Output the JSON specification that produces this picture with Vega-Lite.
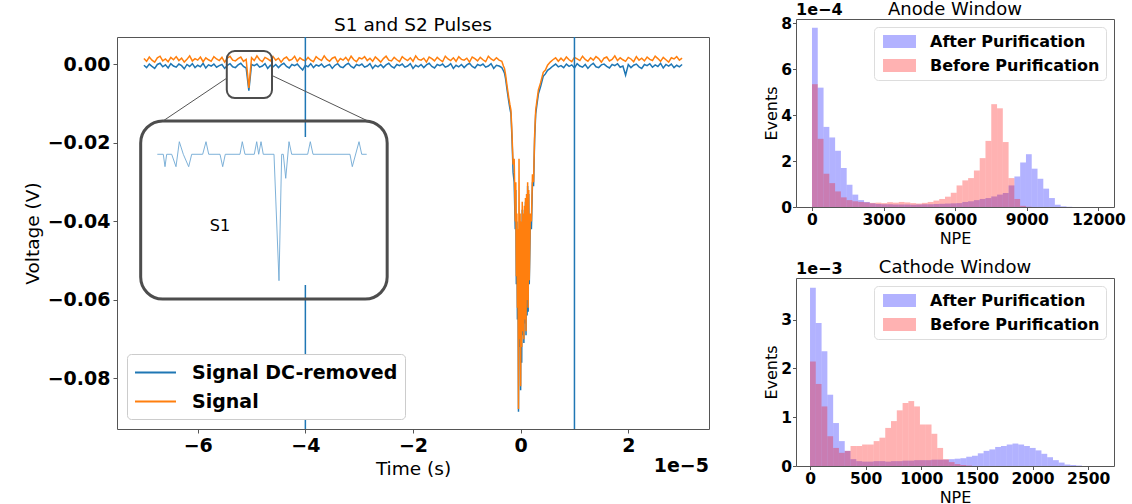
{
"$schema": "https://vega.github.io/schema/vega-lite/v6.json",
"background": "white",
"padding": {"left": 22, "top": 0, "right": 5, "bottom": 5},
"config": {
  "font": "DejaVu Sans",
  "view": {"stroke": "#555", "strokeWidth": 1},
  "axis": {"domain": false, "grid": false, "tickColor": "#555", "tickSize": 4, "labelFontWeight": "bold", "labelColor": "#000", "titleColor": "#000", "titleFontWeight": "normal", "labelFont": "DejaVu Sans", "titleFont": "DejaVu Sans"},
  "legend": {"labelFont": "DejaVu Sans", "labelColor": "#000"}
},
"spacing": 53,
"resolve": {"scale": {"color": "independent"}, "legend": {"color": "independent"}},
"hconcat": [
{
  "spacing": 0,
  "resolve": {"scale": {"color": "independent"}, "legend": {"color": "independent"}},
  "vconcat": [
  {
    "width": 592, "height": 15,
    "view": {"stroke": null},
    "data": {"values": [{"label": "S1 and S2 Pulses"}]},
    "mark": {"type": "text", "fontSize": 18.5, "color": "#000", "baseline": "alphabetic", "dy": 4.5},
    "encoding": {"text": {"field": "label"}}
  },
  {
  "width": 592, "height": 392,
  "layer": [
    {
      "data": {"values": [
        {"t":-7.00,"Signal DC-removed":-0.0002,"Signal":0.0015},
        {"t":-6.95,"Signal DC-removed":-0.0008,"Signal":0.0008},
        {"t":-6.90,"Signal DC-removed":0.0001,"Signal":0.0019},
        {"t":-6.85,"Signal DC-removed":-0.0005,"Signal":0.0011},
        {"t":-6.80,"Signal DC-removed":-0.0010,"Signal":0.0006},
        {"t":-6.75,"Signal DC-removed":0.0000,"Signal":0.0017},
        {"t":-6.70,"Signal DC-removed":0.0003,"Signal":0.0021},
        {"t":-6.65,"Signal DC-removed":-0.0006,"Signal":0.0009},
        {"t":-6.60,"Signal DC-removed":-0.0001,"Signal":0.0014},
        {"t":-6.55,"Signal DC-removed":-0.0009,"Signal":0.0007},
        {"t":-6.50,"Signal DC-removed":0.0002,"Signal":0.0018},
        {"t":-6.45,"Signal DC-removed":-0.0004,"Signal":0.0012},
        {"t":-6.40,"Signal DC-removed":-0.0007,"Signal":0.0020},
        {"t":-6.35,"Signal DC-removed":0.0001,"Signal":0.0010},
        {"t":-6.30,"Signal DC-removed":-0.0003,"Signal":0.0016},
        {"t":-6.25,"Signal DC-removed":-0.0011,"Signal":0.0006},
        {"t":-6.20,"Signal DC-removed":0.0000,"Signal":0.0013},
        {"t":-6.15,"Signal DC-removed":-0.0005,"Signal":0.0022},
        {"t":-6.10,"Signal DC-removed":0.0002,"Signal":0.0009},
        {"t":-6.05,"Signal DC-removed":-0.0008,"Signal":0.0015},
        {"t":-6.00,"Signal DC-removed":-0.0002,"Signal":0.0011},
        {"t":-5.95,"Signal DC-removed":-0.0006,"Signal":0.0019},
        {"t":-5.90,"Signal DC-removed":0.0003,"Signal":0.0007},
        {"t":-5.85,"Signal DC-removed":-0.0009,"Signal":0.0017},
        {"t":-5.80,"Signal DC-removed":-0.0001,"Signal":0.0012},
        {"t":-5.75,"Signal DC-removed":-0.0004,"Signal":0.0008},
        {"t":-5.70,"Signal DC-removed":0.0001,"Signal":0.0020},
        {"t":-5.65,"Signal DC-removed":-0.0007,"Signal":0.0014},
        {"t":-5.60,"Signal DC-removed":-0.0003,"Signal":0.0010},
        {"t":-5.55,"Signal DC-removed":0.0000,"Signal":0.0018},
        {"t":-5.50,"Signal DC-removed":-0.0010,"Signal":0.0006},
        {"t":-5.45,"Signal DC-removed":-0.0002,"Signal":0.0016},
        {"t":-5.40,"Signal DC-removed":0.0002,"Signal":0.0021},
        {"t":-5.35,"Signal DC-removed":-0.0006,"Signal":0.0011},
        {"t":-5.30,"Signal DC-removed":-0.0008,"Signal":0.0009},
        {"t":-5.25,"Signal DC-removed":-0.0001,"Signal":0.0015},
        {"t":-5.20,"Signal DC-removed":0.0003,"Signal":0.0019},
        {"t":-5.15,"Signal DC-removed":-0.0005,"Signal":0.0008},
        {"t":-5.10,"Signal DC-removed":-0.0009,"Signal":0.0013},
        {"t":-5.05,"Signal DC-removed":-0.0067,"Signal":-0.0060},
        {"t":-5.00,"Signal DC-removed":0.0000,"Signal":0.0017},
        {"t":-4.95,"Signal DC-removed":-0.0003,"Signal":0.0010},
        {"t":-4.90,"Signal DC-removed":0.0001,"Signal":0.0022},
        {"t":-4.85,"Signal DC-removed":-0.0007,"Signal":0.0012},
        {"t":-4.80,"Signal DC-removed":-0.0004,"Signal":0.0007},
        {"t":-4.75,"Signal DC-removed":0.0002,"Signal":0.0018},
        {"t":-4.70,"Signal DC-removed":-0.0010,"Signal":0.0014},
        {"t":-4.65,"Signal DC-removed":-0.0002,"Signal":0.0009},
        {"t":-4.60,"Signal DC-removed":-0.0006,"Signal":0.0020},
        {"t":-4.55,"Signal DC-removed":0.0000,"Signal":0.0011},
        {"t":-4.50,"Signal DC-removed":-0.0008,"Signal":0.0016},
        {"t":-4.45,"Signal DC-removed":-0.0001,"Signal":0.0006},
        {"t":-4.40,"Signal DC-removed":0.0003,"Signal":0.0015},
        {"t":-4.35,"Signal DC-removed":-0.0005,"Signal":0.0019},
        {"t":-4.30,"Signal DC-removed":-0.0009,"Signal":0.0010},
        {"t":-4.25,"Signal DC-removed":0.0000,"Signal":0.0013},
        {"t":-4.20,"Signal DC-removed":-0.0003,"Signal":0.0021},
        {"t":-4.15,"Signal DC-removed":0.0001,"Signal":0.0008},
        {"t":-4.10,"Signal DC-removed":-0.0007,"Signal":0.0017},
        {"t":-4.05,"Signal DC-removed":-0.0014,"Signal":0.0012},
        {"t":-4.00,"Signal DC-removed":-0.0002,"Signal":0.0009},
        {"t":-3.95,"Signal DC-removed":-0.0006,"Signal":0.0018},
        {"t":-3.90,"Signal DC-removed":0.0002,"Signal":0.0011},
        {"t":-3.85,"Signal DC-removed":-0.0008,"Signal":0.0007},
        {"t":-3.80,"Signal DC-removed":-0.0001,"Signal":0.0020},
        {"t":-3.75,"Signal DC-removed":-0.0004,"Signal":0.0014},
        {"t":-3.70,"Signal DC-removed":0.0001,"Signal":0.0010},
        {"t":-3.65,"Signal DC-removed":-0.0007,"Signal":0.0022},
        {"t":-3.60,"Signal DC-removed":-0.0003,"Signal":0.0013},
        {"t":-3.55,"Signal DC-removed":0.0000,"Signal":0.0008},
        {"t":-3.50,"Signal DC-removed":-0.0010,"Signal":0.0016},
        {"t":-3.45,"Signal DC-removed":-0.0002,"Signal":0.0019},
        {"t":-3.40,"Signal DC-removed":0.0002,"Signal":0.0006},
        {"t":-3.35,"Signal DC-removed":-0.0006,"Signal":0.0015},
        {"t":-3.30,"Signal DC-removed":-0.0008,"Signal":0.0011},
        {"t":-3.25,"Signal DC-removed":-0.0001,"Signal":0.0018},
        {"t":-3.20,"Signal DC-removed":0.0003,"Signal":0.0009},
        {"t":-3.15,"Signal DC-removed":-0.0005,"Signal":0.0021},
        {"t":-3.10,"Signal DC-removed":-0.0009,"Signal":0.0012},
        {"t":-3.05,"Signal DC-removed":0.0000,"Signal":0.0007},
        {"t":-3.00,"Signal DC-removed":-0.0003,"Signal":0.0017},
        {"t":-2.95,"Signal DC-removed":0.0001,"Signal":0.0014},
        {"t":-2.90,"Signal DC-removed":-0.0007,"Signal":0.0020},
        {"t":-2.85,"Signal DC-removed":-0.0004,"Signal":0.0010},
        {"t":-2.80,"Signal DC-removed":0.0002,"Signal":0.0016},
        {"t":-2.75,"Signal DC-removed":-0.0010,"Signal":0.0008},
        {"t":-2.70,"Signal DC-removed":-0.0002,"Signal":0.0019},
        {"t":-2.65,"Signal DC-removed":-0.0006,"Signal":0.0013},
        {"t":-2.60,"Signal DC-removed":0.0000,"Signal":0.0006},
        {"t":-2.55,"Signal DC-removed":-0.0008,"Signal":0.0015},
        {"t":-2.50,"Signal DC-removed":-0.0001,"Signal":0.0021},
        {"t":-2.45,"Signal DC-removed":0.0003,"Signal":0.0011},
        {"t":-2.40,"Signal DC-removed":-0.0005,"Signal":0.0009},
        {"t":-2.35,"Signal DC-removed":-0.0009,"Signal":0.0018},
        {"t":-2.30,"Signal DC-removed":0.0000,"Signal":0.0012},
        {"t":-2.25,"Signal DC-removed":-0.0003,"Signal":0.0007},
        {"t":-2.20,"Signal DC-removed":0.0001,"Signal":0.0020},
        {"t":-2.15,"Signal DC-removed":-0.0007,"Signal":0.0014},
        {"t":-2.10,"Signal DC-removed":-0.0004,"Signal":0.0010},
        {"t":-2.05,"Signal DC-removed":0.0002,"Signal":0.0017},
        {"t":-2.00,"Signal DC-removed":-0.0010,"Signal":0.0008},
        {"t":-1.95,"Signal DC-removed":-0.0002,"Signal":0.0022},
        {"t":-1.90,"Signal DC-removed":-0.0006,"Signal":0.0013},
        {"t":-1.85,"Signal DC-removed":0.0000,"Signal":0.0011},
        {"t":-1.80,"Signal DC-removed":-0.0008,"Signal":0.0016},
        {"t":-1.75,"Signal DC-removed":-0.0001,"Signal":0.0006},
        {"t":-1.70,"Signal DC-removed":0.0003,"Signal":0.0019},
        {"t":-1.65,"Signal DC-removed":-0.0005,"Signal":0.0015},
        {"t":-1.60,"Signal DC-removed":-0.0009,"Signal":0.0009},
        {"t":-1.55,"Signal DC-removed":0.0000,"Signal":0.0018},
        {"t":-1.50,"Signal DC-removed":-0.0003,"Signal":0.0012},
        {"t":-1.45,"Signal DC-removed":0.0001,"Signal":0.0007},
        {"t":-1.40,"Signal DC-removed":-0.0007,"Signal":0.0021},
        {"t":-1.35,"Signal DC-removed":-0.0004,"Signal":0.0014},
        {"t":-1.30,"Signal DC-removed":0.0002,"Signal":0.0010},
        {"t":-1.25,"Signal DC-removed":-0.0010,"Signal":0.0017},
        {"t":-1.20,"Signal DC-removed":-0.0002,"Signal":0.0008},
        {"t":-1.15,"Signal DC-removed":-0.0006,"Signal":0.0020},
        {"t":-1.10,"Signal DC-removed":0.0000,"Signal":0.0013},
        {"t":-1.05,"Signal DC-removed":-0.0008,"Signal":0.0011},
        {"t":-1.00,"Signal DC-removed":-0.0001,"Signal":0.0016},
        {"t":-0.95,"Signal DC-removed":0.0003,"Signal":0.0006},
        {"t":-0.90,"Signal DC-removed":-0.0005,"Signal":0.0019},
        {"t":-0.85,"Signal DC-removed":-0.0009,"Signal":0.0015},
        {"t":-0.80,"Signal DC-removed":0.0000,"Signal":0.0009},
        {"t":-0.75,"Signal DC-removed":-0.0003,"Signal":0.0018},
        {"t":-0.70,"Signal DC-removed":0.0001,"Signal":0.0012},
        {"t":-0.65,"Signal DC-removed":-0.0007,"Signal":0.0007},
        {"t":-0.60,"Signal DC-removed":-0.0004,"Signal":0.0021},
        {"t":-0.55,"Signal DC-removed":0.0002,"Signal":0.0014},
        {"t":-0.50,"Signal DC-removed":-0.0010,"Signal":0.0010},
        {"t":-0.45,"Signal DC-removed":-0.0002,"Signal":0.0017},
        {"t":-0.40,"Signal DC-removed":-0.0004,"Signal":0.0011},
        {"t":-0.35,"Signal DC-removed":-0.0008,"Signal":0.0008},
        {"t":-0.32,"Signal DC-removed":-0.0016,"Signal":-0.0004},
        {"t":-0.30,"Signal DC-removed":-0.0022,"Signal":-0.0010},
        {"t":-0.28,"Signal DC-removed":-0.0036,"Signal":-0.0026},
        {"t":-0.25,"Signal DC-removed":-0.0067,"Signal":-0.0057},
        {"t":-0.22,"Signal DC-removed":-0.0095,"Signal":-0.0085},
        {"t":-0.20,"Signal DC-removed":-0.0112,"Signal":-0.0102},
        {"t":-0.18,"Signal DC-removed":-0.0126,"Signal":-0.0116},
        {"t":-0.16,"Signal DC-removed":-0.0190,"Signal":-0.0180},
        {"t":-0.14,"Signal DC-removed":-0.0275,"Signal":-0.0255},
        {"t":-0.12,"Signal DC-removed":-0.0300,"Signal":-0.0240},
        {"t":-0.10,"Signal DC-removed":-0.0420,"Signal":-0.0400},
        {"t":-0.09,"Signal DC-removed":-0.0320,"Signal":-0.0300},
        {"t":-0.08,"Signal DC-removed":-0.0560,"Signal":-0.0540},
        {"t":-0.07,"Signal DC-removed":-0.0400,"Signal":-0.0380},
        {"t":-0.06,"Signal DC-removed":-0.0650,"Signal":-0.0620},
        {"t":-0.05,"Signal DC-removed":-0.0440,"Signal":-0.0420},
        {"t":-0.04,"Signal DC-removed":-0.0885,"Signal":-0.0878},
        {"t":-0.03,"Signal DC-removed":-0.0460,"Signal":-0.0240},
        {"t":-0.02,"Signal DC-removed":-0.0720,"Signal":-0.0700},
        {"t":-0.01,"Signal DC-removed":-0.0400,"Signal":-0.0380},
        {"t":0.00,"Signal DC-removed":-0.0830,"Signal":-0.0820},
        {"t":0.01,"Signal DC-removed":-0.0420,"Signal":-0.0400},
        {"t":0.02,"Signal DC-removed":-0.0760,"Signal":-0.0720},
        {"t":0.03,"Signal DC-removed":-0.0370,"Signal":-0.0350},
        {"t":0.04,"Signal DC-removed":-0.0690,"Signal":-0.0680},
        {"t":0.05,"Signal DC-removed":-0.0390,"Signal":-0.0380},
        {"t":0.06,"Signal DC-removed":-0.0710,"Signal":-0.0700},
        {"t":0.07,"Signal DC-removed":-0.0370,"Signal":-0.0360},
        {"t":0.08,"Signal DC-removed":-0.0660,"Signal":-0.0650},
        {"t":0.09,"Signal DC-removed":-0.0350,"Signal":-0.0340},
        {"t":0.10,"Signal DC-removed":-0.0690,"Signal":-0.0680},
        {"t":0.11,"Signal DC-removed":-0.0340,"Signal":-0.0330},
        {"t":0.12,"Signal DC-removed":-0.0640,"Signal":-0.0600},
        {"t":0.13,"Signal DC-removed":-0.0310,"Signal":-0.0300},
        {"t":0.14,"Signal DC-removed":-0.0630,"Signal":-0.0620},
        {"t":0.15,"Signal DC-removed":-0.0330,"Signal":-0.0320},
        {"t":0.16,"Signal DC-removed":-0.0560,"Signal":-0.0550},
        {"t":0.18,"Signal DC-removed":-0.0400,"Signal":-0.0380},
        {"t":0.20,"Signal DC-removed":-0.0420,"Signal":-0.0400},
        {"t":0.22,"Signal DC-removed":-0.0300,"Signal":-0.0280},
        {"t":0.24,"Signal DC-removed":-0.0310,"Signal":-0.0300},
        {"t":0.26,"Signal DC-removed":-0.0190,"Signal":-0.0180},
        {"t":0.28,"Signal DC-removed":-0.0126,"Signal":-0.0116},
        {"t":0.30,"Signal DC-removed":-0.0105,"Signal":-0.0095},
        {"t":0.33,"Signal DC-removed":-0.0075,"Signal":-0.0065},
        {"t":0.37,"Signal DC-removed":-0.0057,"Signal":-0.0047},
        {"t":0.42,"Signal DC-removed":-0.0030,"Signal":-0.0020},
        {"t":0.46,"Signal DC-removed":-0.0024,"Signal":-0.0014},
        {"t":0.50,"Signal DC-removed":-0.0015,"Signal":-0.0002},
        {"t":0.55,"Signal DC-removed":-0.0010,"Signal":0.0006},
        {"t":0.60,"Signal DC-removed":-0.0004,"Signal":0.0012},
        {"t":0.65,"Signal DC-removed":0.0001,"Signal":0.0017},
        {"t":0.70,"Signal DC-removed":-0.0006,"Signal":0.0008},
        {"t":0.75,"Signal DC-removed":-0.0003,"Signal":0.0016},
        {"t":0.80,"Signal DC-removed":-0.0008,"Signal":0.0009},
        {"t":0.85,"Signal DC-removed":0.0001,"Signal":0.0019},
        {"t":0.90,"Signal DC-removed":-0.0005,"Signal":0.0012},
        {"t":0.95,"Signal DC-removed":-0.0001,"Signal":0.0007},
        {"t":1.00,"Signal DC-removed":-0.0009,"Signal":0.0018},
        {"t":1.05,"Signal DC-removed":0.0002,"Signal":0.0014},
        {"t":1.10,"Signal DC-removed":-0.0004,"Signal":0.0010},
        {"t":1.15,"Signal DC-removed":-0.0007,"Signal":0.0021},
        {"t":1.20,"Signal DC-removed":0.0000,"Signal":0.0013},
        {"t":1.25,"Signal DC-removed":-0.0010,"Signal":0.0008},
        {"t":1.30,"Signal DC-removed":-0.0002,"Signal":0.0017},
        {"t":1.35,"Signal DC-removed":0.0003,"Signal":0.0011},
        {"t":1.40,"Signal DC-removed":-0.0006,"Signal":0.0020},
        {"t":1.45,"Signal DC-removed":-0.0008,"Signal":0.0015},
        {"t":1.50,"Signal DC-removed":-0.0001,"Signal":0.0006},
        {"t":1.55,"Signal DC-removed":0.0001,"Signal":0.0016},
        {"t":1.60,"Signal DC-removed":-0.0005,"Signal":0.0019},
        {"t":1.65,"Signal DC-removed":-0.0009,"Signal":0.0009},
        {"t":1.70,"Signal DC-removed":0.0000,"Signal":0.0013},
        {"t":1.75,"Signal DC-removed":-0.0003,"Signal":0.0022},
        {"t":1.80,"Signal DC-removed":0.0002,"Signal":0.0010},
        {"t":1.85,"Signal DC-removed":-0.0007,"Signal":0.0017},
        {"t":1.90,"Signal DC-removed":-0.0004,"Signal":0.0012},
        {"t":1.95,"Signal DC-removed":-0.0027,"Signal":0.0008},
        {"t":2.00,"Signal DC-removed":0.0000,"Signal":0.0018},
        {"t":2.05,"Signal DC-removed":-0.0008,"Signal":0.0014},
        {"t":2.10,"Signal DC-removed":-0.0002,"Signal":0.0007},
        {"t":2.15,"Signal DC-removed":0.0001,"Signal":0.0020},
        {"t":2.20,"Signal DC-removed":-0.0006,"Signal":0.0011},
        {"t":2.25,"Signal DC-removed":-0.0010,"Signal":0.0016},
        {"t":2.30,"Signal DC-removed":0.0000,"Signal":0.0009},
        {"t":2.35,"Signal DC-removed":-0.0003,"Signal":0.0019},
        {"t":2.40,"Signal DC-removed":0.0002,"Signal":0.0013},
        {"t":2.45,"Signal DC-removed":-0.0007,"Signal":0.0010},
        {"t":2.50,"Signal DC-removed":-0.0001,"Signal":0.0021},
        {"t":2.55,"Signal DC-removed":-0.0005,"Signal":0.0015},
        {"t":2.60,"Signal DC-removed":0.0003,"Signal":0.0008},
        {"t":2.65,"Signal DC-removed":-0.0009,"Signal":0.0018},
        {"t":2.70,"Signal DC-removed":0.0000,"Signal":0.0012},
        {"t":2.75,"Signal DC-removed":-0.0004,"Signal":0.0006},
        {"t":2.80,"Signal DC-removed":0.0001,"Signal":0.0017},
        {"t":2.85,"Signal DC-removed":-0.0008,"Signal":0.0014},
        {"t":2.90,"Signal DC-removed":-0.0002,"Signal":0.0020},
        {"t":2.95,"Signal DC-removed":-0.0006,"Signal":0.0011},
        {"t":3.00,"Signal DC-removed":0.0000,"Signal":0.0016}
      ]},
      "transform": [{"fold": ["Signal DC-removed", "Signal"], "as": ["series", "v"]}],
      "mark": {"type": "line", "strokeWidth": 1.5},
      "encoding": {
        "x": {"field": "t", "type": "quantitative", "scale": {"domain": [-7.5, 3.5], "nice": false, "zero": false},
              "axis": {"values": [-6, -4, -2, 0, 2], "format": "d", "labelFontSize": 19, "labelPadding": 3, "title": "Time (s)", "titleFontSize": 18.5, "titlePadding": 4}},
        "y": {"field": "v", "type": "quantitative", "scale": {"domain": [-0.0929, 0.007], "nice": false, "zero": false},
              "axis": {"values": [0, -0.02, -0.04, -0.06, -0.08], "format": ".2f", "labelFontSize": 19, "labelPadding": 3, "title": "Voltage (V)", "titleFontSize": 18.5, "titlePadding": 5}},
        "color": {"field": "series", "type": "nominal",
                  "scale": {"domain": ["Signal DC-removed", "Signal"], "range": ["#1f77b4", "#ff7f0e"]},
                  "legend": {"title": null, "orient": "bottom-left", "offset": 10, "symbolType": "M-2,0H2", "symbolSize": 420, "symbolStrokeWidth": 2, "symbolOffset": 10, "labelFontSize": 19, "labelFontWeight": "bold", "labelOffset": 25, "labelLimit": 400, "padding": 7, "rowPadding": 7, "strokeColor": "#cccccc", "fillColor": "white", "cornerRadius": 4}}
      }
    },
    {
      "data": {"values": [{"t": -4}, {"t": 1}]},
      "mark": {"type": "rule", "color": "#1f77b4", "strokeWidth": 1.5},
      "encoding": {"x": {"field": "t", "type": "quantitative"}}
    },
    {
      "data": {"values": [{"t": -6.887, "t2": -2.725, "v": -0.01848, "v2": -0.0562}]},
      "mark": {"type": "rect", "fill": "white"},
      "encoding": {"x": {"field": "t", "type": "quantitative"}, "x2": {"field": "t2"}, "y": {"field": "v", "type": "quantitative"}, "y2": {"field": "v2"}}
    },
    {
      "data": {"values": [
        {"t":-6.751,"v":-0.02289},{"t":-6.640,"v":-0.02289},{"t":-6.608,"v":-0.02605},{"t":-6.577,"v":-0.02289},
        {"t":-6.484,"v":-0.02289},{"t":-6.404,"v":-0.02605},{"t":-6.342,"v":-0.01968},{"t":-6.268,"v":-0.02289},
        {"t":-6.168,"v":-0.02605},{"t":-6.112,"v":-0.02289},{"t":-5.908,"v":-0.02289},{"t":-5.846,"v":-0.01968},
        {"t":-5.796,"v":-0.02289},{"t":-5.586,"v":-0.02289},{"t":-5.536,"v":-0.02605},{"t":-5.488,"v":-0.02289},
        {"t":-5.215,"v":-0.02289},{"t":-5.172,"v":-0.01968},{"t":-5.122,"v":-0.02289},{"t":-4.949,"v":-0.02289},
        {"t":-4.904,"v":-0.01968},{"t":-4.867,"v":-0.02289},{"t":-4.824,"v":-0.01968},{"t":-4.782,"v":-0.02289},
        {"t":-4.583,"v":-0.02289},{"t":-4.490,"v":-0.05511},{"t":-4.440,"v":-0.02289},{"t":-4.410,"v":-0.02289},
        {"t":-4.365,"v":-0.02901},{"t":-4.304,"v":-0.01968},{"t":-4.254,"v":-0.02289},{"t":-3.957,"v":-0.02289},
        {"t":-3.908,"v":-0.01968},{"t":-3.858,"v":-0.02289},{"t":-3.171,"v":-0.02289},{"t":-3.128,"v":-0.02605},
        {"t":-3.003,"v":-0.01968},{"t":-2.953,"v":-0.02289},{"t":-2.860,"v":-0.02289}
      ]},
      "mark": {"type": "line", "color": "#6fa8d4", "strokeWidth": 0.9},
      "encoding": {"x": {"field": "t", "type": "quantitative"}, "y": {"field": "v", "type": "quantitative"}}
    },
    {
      "data": {"values": [{"t": -7.06, "t2": -2.48, "v": -0.0144, "v2": -0.0598}]},
      "mark": {"type": "rect", "filled": false, "color": "#4d4d4d", "strokeWidth": 3, "cornerRadius": 22},
      "encoding": {"x": {"field": "t", "type": "quantitative"}, "x2": {"field": "t2"}, "y": {"field": "v", "type": "quantitative"}, "y2": {"field": "v2"}}
    },
    {
      "data": {"values": [{"t": -5.46, "t2": -4.62, "v": 0.00343, "v2": -0.00855}]},
      "mark": {"type": "rect", "filled": false, "color": "#4d4d4d", "strokeWidth": 2, "cornerRadius": 8},
      "encoding": {"x": {"field": "t", "type": "quantitative"}, "x2": {"field": "t2"}, "y": {"field": "v", "type": "quantitative"}, "y2": {"field": "v2"}}
    },
    {
      "data": {"values": [
        {"t": -5.456, "v": -0.003449, "t2": -6.645, "v2": -0.014407},
        {"t": -4.601, "v": -0.002939, "t2": -2.799, "v2": -0.01466}
      ]},
      "mark": {"type": "rule", "color": "#555555", "strokeWidth": 1},
      "encoding": {"x": {"field": "t", "type": "quantitative"}, "x2": {"field": "t2"}, "y": {"field": "v", "type": "quantitative"}, "y2": {"field": "v2"}}
    },
    {
      "data": {"values": [{"t": -5.586, "v": -0.04116, "label": "S1"}]},
      "mark": {"type": "text", "fontSize": 16, "color": "#000"},
      "encoding": {"x": {"field": "t", "type": "quantitative"}, "y": {"field": "v", "type": "quantitative"}, "text": {"field": "label"}}
    },
    {
      "data": {"values": [{"label": "1e−5"}]},
      "mark": {"type": "text", "fontSize": 19, "fontWeight": "bold", "color": "#000", "align": "right", "baseline": "middle"},
      "encoding": {"x": {"datum": 3.5}, "y": {"datum": -0.1023}, "text": {"field": "label"}}
    }
  ]
  }
  ]
},
{
  "spacing": 11,
  "resolve": {"scale": {"color": "independent"}, "legend": {"color": "independent"}},
  "vconcat": [
    {
      "width": 318, "height": 188,
      "layer": [
        {
          "data": {"values": [
            {"lo":0,"hi":242,"After Purification":7.81,"Before Purification":5.35},
            {"lo":242,"hi":485,"After Purification":5.20,"Before Purification":2.97},
            {"lo":485,"hi":727,"After Purification":3.49,"Before Purification":1.45},
            {"lo":727,"hi":969,"After Purification":3.03,"Before Purification":1.04},
            {"lo":969,"hi":1212,"After Purification":2.45,"Before Purification":0.68},
            {"lo":1212,"hi":1454,"After Purification":1.70,"Before Purification":0.42},
            {"lo":1454,"hi":1696,"After Purification":0.97,"Before Purification":0.30},
            {"lo":1696,"hi":1938,"After Purification":0.54,"Before Purification":0.25},
            {"lo":1938,"hi":2181,"After Purification":0.30,"Before Purification":0.22},
            {"lo":2181,"hi":2423,"After Purification":0.22,"Before Purification":0.20},
            {"lo":2423,"hi":2665,"After Purification":0.16,"Before Purification":0.18},
            {"lo":2665,"hi":2908,"After Purification":0.13,"Before Purification":0.19},
            {"lo":2908,"hi":3150,"After Purification":0.12,"Before Purification":0.17},
            {"lo":3150,"hi":3392,"After Purification":0.12,"Before Purification":0.21},
            {"lo":3392,"hi":3635,"After Purification":0.11,"Before Purification":0.19},
            {"lo":3635,"hi":3877,"After Purification":0.11,"Before Purification":0.22},
            {"lo":3877,"hi":4119,"After Purification":0.11,"Before Purification":0.20},
            {"lo":4119,"hi":4361,"After Purification":0.10,"Before Purification":0.17},
            {"lo":4361,"hi":4604,"After Purification":0.11,"Before Purification":0.15},
            {"lo":4604,"hi":4846,"After Purification":0.12,"Before Purification":0.18},
            {"lo":4846,"hi":5088,"After Purification":0.12,"Before Purification":0.22},
            {"lo":5088,"hi":5331,"After Purification":0.13,"Before Purification":0.28},
            {"lo":5331,"hi":5573,"After Purification":0.14,"Before Purification":0.35},
            {"lo":5573,"hi":5815,"After Purification":0.15,"Before Purification":0.45},
            {"lo":5815,"hi":6058,"After Purification":0.16,"Before Purification":0.62},
            {"lo":6058,"hi":6300,"After Purification":0.17,"Before Purification":0.94},
            {"lo":6300,"hi":6542,"After Purification":0.22,"Before Purification":1.16},
            {"lo":6542,"hi":6784,"After Purification":0.25,"Before Purification":1.26},
            {"lo":6784,"hi":7027,"After Purification":0.30,"Before Purification":1.59},
            {"lo":7027,"hi":7269,"After Purification":0.35,"Before Purification":2.13},
            {"lo":7269,"hi":7511,"After Purification":0.39,"Before Purification":2.88},
            {"lo":7511,"hi":7754,"After Purification":0.46,"Before Purification":4.48},
            {"lo":7754,"hi":7996,"After Purification":0.54,"Before Purification":4.30},
            {"lo":7996,"hi":8238,"After Purification":0.61,"Before Purification":2.83},
            {"lo":8238,"hi":8481,"After Purification":0.94,"Before Purification":1.26},
            {"lo":8481,"hi":8723,"After Purification":1.33,"Before Purification":0.35},
            {"lo":8723,"hi":8965,"After Purification":1.94,"Before Purification":0.05},
            {"lo":8965,"hi":9207,"After Purification":2.30,"Before Purification":0.01},
            {"lo":9207,"hi":9450,"After Purification":1.67,"Before Purification":0},
            {"lo":9450,"hi":9692,"After Purification":1.23,"Before Purification":0},
            {"lo":9692,"hi":9934,"After Purification":0.80,"Before Purification":0},
            {"lo":9934,"hi":10177,"After Purification":0.39,"Before Purification":0},
            {"lo":10177,"hi":10419,"After Purification":0.10,"Before Purification":0},
            {"lo":10419,"hi":10661,"After Purification":0.03,"Before Purification":0},
            {"lo":10661,"hi":10904,"After Purification":0.01,"Before Purification":0}
          ]},
          "transform": [{"fold": ["After Purification", "Before Purification"], "as": ["g", "h"]}],
          "mark": {"type": "rect", "fillOpacity": 0.3, "strokeWidth": 0},
          "encoding": {
            "x": {"field": "lo", "type": "quantitative", "scale": {"domain": [-670, 12654], "nice": false, "zero": false},
                  "axis": {"values": [0, 3000, 6000, 9000, 12000], "format": "d", "labelFontSize": 15.5, "labelPadding": 2, "tickSize": 3.5, "title": "NPE", "titleFontSize": 16, "titlePadding": 2}},
            "x2": {"field": "hi"},
            "y": {"field": "h", "type": "quantitative", "scale": {"domain": [0, 8.19], "nice": false},
                  "axis": {"values": [0, 2, 4, 6, 8], "format": "d", "labelFontSize": 15.5, "labelPadding": 1, "tickSize": 3.5, "title": "Events", "titleFontSize": 16, "titlePadding": 1}},
            "y2": {"datum": 0},
            "color": {"field": "g", "type": "nominal",
                      "scale": {"domain": ["After Purification", "Before Purification"], "range": ["#0000ff", "#ff0000"]},
                      "legend": {"title": null, "orient": "top-right", "offset": 8, "symbolType": "M-2,-0.8H2V0.8H-2Z", "symbolSize": 272, "symbolOpacity": 0.3, "symbolStrokeWidth": 0, "symbolOffset": 11, "labelFontSize": 16, "labelFontWeight": "bold", "labelOffset": 22, "labelLimit": 300, "padding": 6, "rowPadding": 7, "strokeColor": "#dddddd", "fillColor": "white", "cornerRadius": 4}}
          }
        },
        {
          "data": {"values": [{"label": "1e−4"}]},
          "mark": {"type": "text", "fontSize": 16, "fontWeight": "bold", "color": "#000", "align": "left", "baseline": "bottom", "dy": -1},
          "encoding": {"x": {"datum": -670}, "y": {"datum": 8.19}, "text": {"field": "label"}}
        },
        {
          "data": {"values": [{"label": "Anode Window"}]},
          "mark": {"type": "text", "fontSize": 18, "color": "#000", "align": "center", "baseline": "alphabetic", "dy": -4},
          "encoding": {"x": {"datum": 5992}, "y": {"datum": 8.19}, "text": {"field": "label"}}
        }
      ]
    },
    {
      "width": 318, "height": 188,
      "layer": [
        {
          "data": {"values": [
            {"lo":0,"hi":52,"After Purification":3.65,"Before Purification":2.14},
            {"lo":52,"hi":104,"After Purification":2.93,"Before Purification":1.68},
            {"lo":104,"hi":156,"After Purification":2.35,"Before Purification":1.22},
            {"lo":156,"hi":208,"After Purification":1.46,"Before Purification":0.61},
            {"lo":208,"hi":260,"After Purification":0.88,"Before Purification":0.37},
            {"lo":260,"hi":312,"After Purification":0.51,"Before Purification":0.27},
            {"lo":312,"hi":364,"After Purification":0.31,"Before Purification":0.31},
            {"lo":364,"hi":416,"After Purification":0.14,"Before Purification":0.41},
            {"lo":416,"hi":468,"After Purification":0.10,"Before Purification":0.41},
            {"lo":468,"hi":520,"After Purification":0.09,"Before Purification":0.44},
            {"lo":520,"hi":572,"After Purification":0.09,"Before Purification":0.44},
            {"lo":572,"hi":624,"After Purification":0.10,"Before Purification":0.51},
            {"lo":624,"hi":676,"After Purification":0.10,"Before Purification":0.58},
            {"lo":676,"hi":728,"After Purification":0.09,"Before Purification":0.78},
            {"lo":728,"hi":780,"After Purification":0.10,"Before Purification":0.92},
            {"lo":780,"hi":832,"After Purification":0.10,"Before Purification":1.14},
            {"lo":832,"hi":884,"After Purification":0.11,"Before Purification":1.29},
            {"lo":884,"hi":936,"After Purification":0.11,"Before Purification":1.33},
            {"lo":936,"hi":988,"After Purification":0.12,"Before Purification":1.22},
            {"lo":988,"hi":1040,"After Purification":0.12,"Before Purification":0.85},
            {"lo":1040,"hi":1092,"After Purification":0.12,"Before Purification":0.85},
            {"lo":1092,"hi":1144,"After Purification":0.13,"Before Purification":0.66},
            {"lo":1144,"hi":1196,"After Purification":0.13,"Before Purification":0.37},
            {"lo":1196,"hi":1248,"After Purification":0.13,"Before Purification":0.14},
            {"lo":1248,"hi":1300,"After Purification":0.14,"Before Purification":0.08},
            {"lo":1300,"hi":1352,"After Purification":0.15,"Before Purification":0.04},
            {"lo":1352,"hi":1404,"After Purification":0.16,"Before Purification":0.02},
            {"lo":1404,"hi":1456,"After Purification":0.19,"Before Purification":0.01},
            {"lo":1456,"hi":1508,"After Purification":0.21,"Before Purification":0},
            {"lo":1508,"hi":1560,"After Purification":0.26,"Before Purification":0},
            {"lo":1560,"hi":1612,"After Purification":0.31,"Before Purification":0},
            {"lo":1612,"hi":1664,"After Purification":0.34,"Before Purification":0},
            {"lo":1664,"hi":1716,"After Purification":0.39,"Before Purification":0},
            {"lo":1716,"hi":1768,"After Purification":0.41,"Before Purification":0},
            {"lo":1768,"hi":1820,"After Purification":0.44,"Before Purification":0},
            {"lo":1820,"hi":1872,"After Purification":0.46,"Before Purification":0},
            {"lo":1872,"hi":1924,"After Purification":0.44,"Before Purification":0},
            {"lo":1924,"hi":1976,"After Purification":0.41,"Before Purification":0},
            {"lo":1976,"hi":2028,"After Purification":0.37,"Before Purification":0},
            {"lo":2028,"hi":2080,"After Purification":0.32,"Before Purification":0},
            {"lo":2080,"hi":2132,"After Purification":0.25,"Before Purification":0},
            {"lo":2132,"hi":2184,"After Purification":0.18,"Before Purification":0},
            {"lo":2184,"hi":2236,"After Purification":0.12,"Before Purification":0},
            {"lo":2236,"hi":2288,"After Purification":0.07,"Before Purification":0},
            {"lo":2288,"hi":2340,"After Purification":0.03,"Before Purification":0},
            {"lo":2340,"hi":2392,"After Purification":0.02,"Before Purification":0},
            {"lo":2392,"hi":2444,"After Purification":0.01,"Before Purification":0}
          ]},
          "transform": [{"fold": ["After Purification", "Before Purification"], "as": ["g", "h"]}],
          "mark": {"type": "rect", "fillOpacity": 0.3, "strokeWidth": 0},
          "encoding": {
            "x": {"field": "lo", "type": "quantitative", "scale": {"domain": [-126, 2732], "nice": false, "zero": false},
                  "axis": {"values": [0, 500, 1000, 1500, 2000, 2500], "format": "d", "labelFontSize": 15.5, "labelPadding": 2, "tickSize": 3.5, "title": "NPE", "titleFontSize": 16, "titlePadding": 2}},
            "x2": {"field": "hi"},
            "y": {"field": "h", "type": "quantitative", "scale": {"domain": [0, 3.85], "nice": false},
                  "axis": {"values": [0, 1, 2, 3], "format": "d", "labelFontSize": 15.5, "labelPadding": 1, "tickSize": 3.5, "title": "Events", "titleFontSize": 16, "titlePadding": 1}},
            "y2": {"datum": 0},
            "color": {"field": "g", "type": "nominal",
                      "scale": {"domain": ["After Purification", "Before Purification"], "range": ["#0000ff", "#ff0000"]},
                      "legend": {"title": null, "orient": "top-right", "offset": 8, "symbolType": "M-2,-0.8H2V0.8H-2Z", "symbolSize": 272, "symbolOpacity": 0.3, "symbolStrokeWidth": 0, "symbolOffset": 11, "labelFontSize": 16, "labelFontWeight": "bold", "labelOffset": 22, "labelLimit": 300, "padding": 6, "rowPadding": 7, "strokeColor": "#dddddd", "fillColor": "white", "cornerRadius": 4}}
          }
        },
        {
          "data": {"values": [{"label": "1e−3"}]},
          "mark": {"type": "text", "fontSize": 16, "fontWeight": "bold", "color": "#000", "align": "left", "baseline": "bottom", "dy": -1},
          "encoding": {"x": {"datum": -126}, "y": {"datum": 3.85}, "text": {"field": "label"}}
        },
        {
          "data": {"values": [{"label": "Cathode Window"}]},
          "mark": {"type": "text", "fontSize": 18, "color": "#000", "align": "center", "baseline": "alphabetic", "dy": -5},
          "encoding": {"x": {"datum": 1303}, "y": {"datum": 3.85}, "text": {"field": "label"}}
        }
      ]
    }
  ]
}
]
}
